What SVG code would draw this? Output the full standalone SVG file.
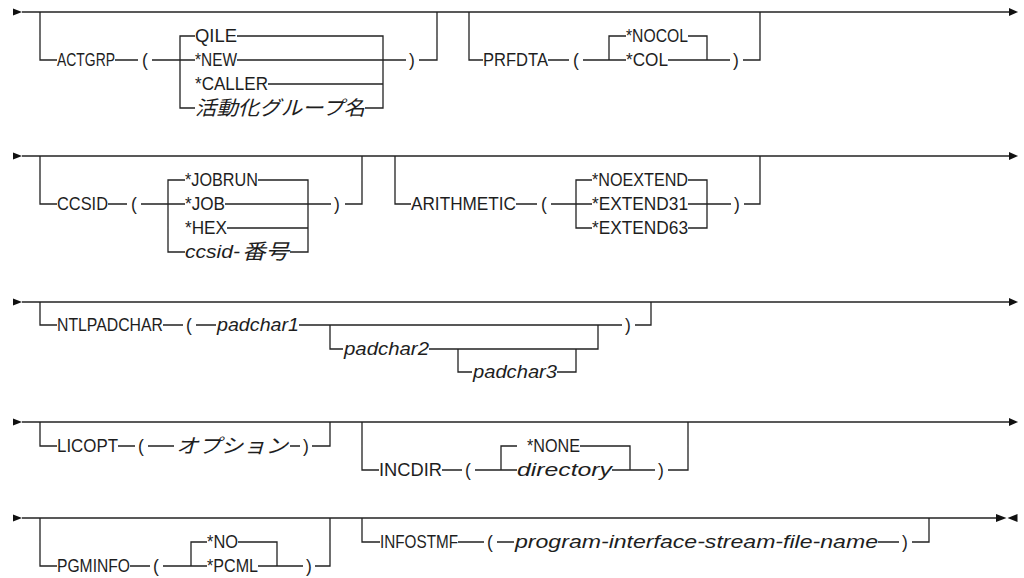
<svg xmlns="http://www.w3.org/2000/svg" width="1024" height="578" viewBox="0 0 1024 578">
<style>
.l{fill:none;stroke:#222;stroke-width:1.3}
.ah{fill:#111;stroke:none}
.t{font-family:"Liberation Sans",Arial,sans-serif;font-size:17.5px;fill:#1e1e1e}
.i{font-style:italic}
.j{font-family:"Noto Sans CJK JP","Liberation Sans",sans-serif;font-size:20px;font-style:italic;fill:#1e1e1e}
</style>
<rect width="1024" height="578" fill="#fff"/>
<g id="connectors">
<!-- row 1 -->
<polygon class="ah" points="13,8.5 13,15.5 22,12"/>
<path class="l" d="M22,12 H1009"/>
<polygon class="ah" points="1009,8 1009,16 1018,12"/>
<path class="l" d="M40,12 V60 H57 M115,60 H138 M152,60 H195 M195,36 H180 V108 H195 M237,36 H383 V108 H365 M268,84 H383 M237,60 H406 M419,60 H437 V12"/>
<path class="l" d="M469,12 V60 H483 M548,60 H569 M583,60 H626 M626,36 H609 V60 M688,36 H707 V60 M668,60 H730 M743,60 H760 V12"/>
<!-- row 2 -->
<polygon class="ah" points="13,152.5 13,159.5 22,156"/>
<path class="l" d="M22,156 H1009"/>
<polygon class="ah" points="1009,152 1009,160 1018,156"/>
<path class="l" d="M40,156 V204 H57 M108,204 H127 M141,204 H185 M185,180 H168 V252 H185 M258,180 H308 V252 H290 M227,228 H308 M225,204 H331 M345,204 H362 V156"/>
<path class="l" d="M395,156 V204 H411 M516,204 H537 M551,204 H592 M592,180 H576 V228 H592 M688,180 H707 V228 H688 M688,204 H731 M744,204 H760 V156"/>
<!-- row 3 -->
<polygon class="ah" points="13,298.5 13,305.5 22,302"/>
<path class="l" d="M22,302 H1009"/>
<polygon class="ah" points="1009,298 1009,306 1018,302"/>
<path class="l" d="M40,302 V325 H57 M163,325 H183 M196,325 H216 M299,325 H622 M635,325 H651 V302 M330,325 V349 H343 M429,349 H598 V325 M458,349 V372 H472 M557,372 H576 V349"/>
<!-- row 4 -->
<polygon class="ah" points="13,418.5 13,425.5 22,422"/>
<path class="l" d="M22,422 H1009"/>
<polygon class="ah" points="1009,418 1009,426 1018,422"/>
<path class="l" d="M40,422 V446 H57 M118,446 H135 M148,446 H174 M290,446 H300 M312,446 H330 V422"/>
<path class="l" d="M362,422 V470 H379 M442,470 H462 M475,470 H517 M517,446 H501 V470 M580,446 H630 V470 H612 M630,470 H655 M668,470 H688 V422"/>
<!-- row 5 -->
<polygon class="ah" points="13,514.5 13,521.5 22,518"/>
<path class="l" d="M22,518 H996"/>
<polygon class="ah" points="996,514 996,522 1006.5,518"/>
<polygon class="ah" points="1017.5,514 1017.5,522 1007.5,518"/>
<path class="l" d="M40,518 V566 H57 M130,566 H150 M163,566 H207 M207,542 H191 V566 M238,542 H277 V566 H258 M258,566 H303 M315,566 H330 V518"/>
<path class="l" d="M362,518 V542 H380 M458,542 H484 M497,542 H514 M878,542 H899 M912,542 H929 V518"/>
</g>
<g id="node-actgrp">
<text class="t" x="57" y="66" textLength="58" lengthAdjust="spacingAndGlyphs">ACTGRP</text>
<text class="t" x="142" y="66">(</text>
<text class="t" x="195" y="42" textLength="42" lengthAdjust="spacingAndGlyphs">QILE</text>
<text class="t" x="195" y="66" textLength="42" lengthAdjust="spacingAndGlyphs">*NEW</text>
<text class="t" x="195" y="90" textLength="73" lengthAdjust="spacingAndGlyphs">*CALLER</text>
<text class="j" x="195" y="115" textLength="170" lengthAdjust="spacingAndGlyphs">活動化グループ名</text>
<text class="t" x="409" y="66">)</text>
</g>
<g id="node-prfdta">
<text class="t" x="483" y="66" textLength="65" lengthAdjust="spacingAndGlyphs">PRFDTA</text>
<text class="t" x="573" y="66">(</text>
<text class="t" x="626" y="42" textLength="62" lengthAdjust="spacingAndGlyphs">*NOCOL</text>
<text class="t" x="626" y="66" textLength="42" lengthAdjust="spacingAndGlyphs">*COL</text>
<text class="t" x="733" y="66">)</text>
</g>
<g id="node-ccsid">
<text class="t" x="57" y="210" textLength="51" lengthAdjust="spacingAndGlyphs">CCSID</text>
<text class="t" x="131" y="210">(</text>
<text class="t" x="185" y="186" textLength="73" lengthAdjust="spacingAndGlyphs">*JOBRUN</text>
<text class="t" x="185" y="210" textLength="40" lengthAdjust="spacingAndGlyphs">*JOB</text>
<text class="t" x="185" y="234" textLength="42" lengthAdjust="spacingAndGlyphs">*HEX</text>
<text class="t i" x="185" y="258"><tspan textLength="55" lengthAdjust="spacingAndGlyphs">ccsid-</tspan><tspan x="242" y="259" class="j" style="font-size:21px" textLength="47" lengthAdjust="spacingAndGlyphs">番号</tspan></text>
<text class="t" x="334" y="210">)</text>
</g>
<g id="node-arithmetic">
<text class="t" x="411" y="210" textLength="105" lengthAdjust="spacingAndGlyphs">ARITHMETIC</text>
<text class="t" x="541" y="210">(</text>
<text class="t" x="592" y="186" textLength="96" lengthAdjust="spacingAndGlyphs">*NOEXTEND</text>
<text class="t" x="592" y="210" textLength="96" lengthAdjust="spacingAndGlyphs">*EXTEND31</text>
<text class="t" x="592" y="234" textLength="96" lengthAdjust="spacingAndGlyphs">*EXTEND63</text>
<text class="t" x="734" y="210">)</text>
</g>
<g id="node-ntlpadchar">
<text class="t" x="57" y="331" textLength="106" lengthAdjust="spacingAndGlyphs">NTLPADCHAR</text>
<text class="t" x="186" y="331">(</text>
<text class="t i" x="217" y="331" textLength="82" lengthAdjust="spacingAndGlyphs">padchar1</text>
<text class="t i" x="344" y="355" textLength="85" lengthAdjust="spacingAndGlyphs">padchar2</text>
<text class="t i" x="473" y="378" textLength="84" lengthAdjust="spacingAndGlyphs">padchar3</text>
<text class="t" x="625" y="331">)</text>
</g>
<g id="node-licopt">
<text class="t" x="57" y="452" textLength="61" lengthAdjust="spacingAndGlyphs">LICOPT</text>
<text class="t" x="138" y="452">(</text>
<text class="j" x="176" y="453" textLength="112" lengthAdjust="spacingAndGlyphs">オプション</text>
<text class="t" x="303" y="452">)</text>
</g>
<g id="node-incdir">
<text class="t" x="379" y="476" textLength="63" lengthAdjust="spacingAndGlyphs">INCDIR</text>
<text class="t" x="465" y="476">(</text>
<text class="t" x="527" y="452" textLength="53" lengthAdjust="spacingAndGlyphs">*NONE</text>
<text class="t i" x="517" y="476" textLength="95" lengthAdjust="spacingAndGlyphs">directory</text>
<text class="t" x="658" y="476">)</text>
</g>
<g id="node-pgminfo">
<text class="t" x="57" y="572" textLength="73" lengthAdjust="spacingAndGlyphs">PGMINFO</text>
<text class="t" x="153" y="572">(</text>
<text class="t" x="207" y="548" textLength="31" lengthAdjust="spacingAndGlyphs">*NO</text>
<text class="t" x="207" y="572" textLength="51" lengthAdjust="spacingAndGlyphs">*PCML</text>
<text class="t" x="306" y="572">)</text>
</g>
<g id="node-infostmf">
<text class="t" x="380" y="548" textLength="78" lengthAdjust="spacingAndGlyphs">INFOSTMF</text>
<text class="t" x="487" y="548">(</text>
<text class="t i" x="515" y="548" textLength="363" lengthAdjust="spacingAndGlyphs">program-interface-stream-file-name</text>
<text class="t" x="902" y="548">)</text>
</g>
</svg>
